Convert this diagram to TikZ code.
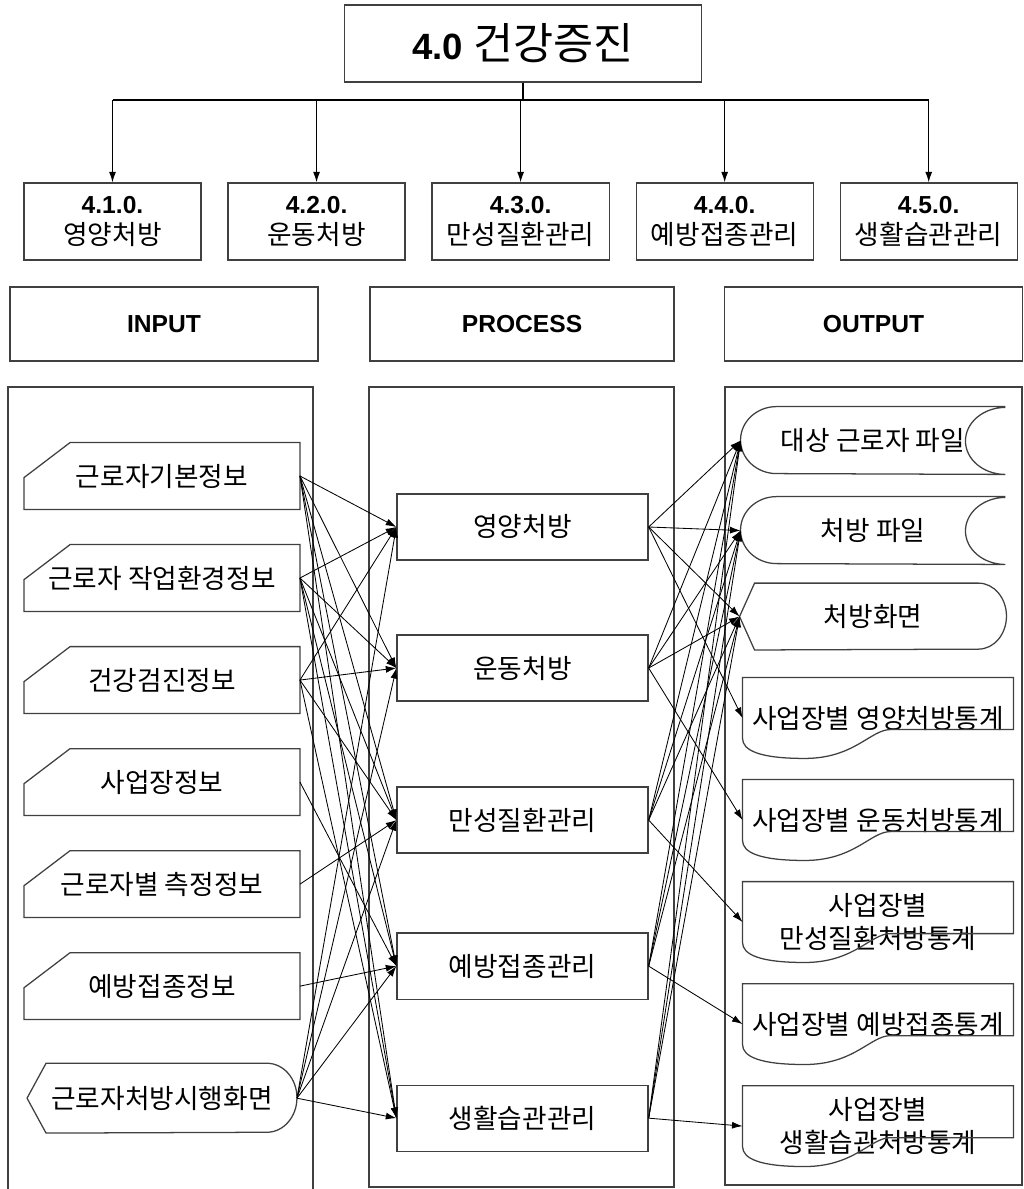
\documentclass[tikz,border=0pt]{standalone}
\usepackage{fontspec}
\setmainfont{Liberation Sans}
\newfontfamily\kr{Noto Sans CJK KR}
\usetikzlibrary{arrows.meta,calc}

\begin{document}
\begin{tikzpicture}[x=0.025cm,y=-0.025cm,>={Latex[length=7.5pt,width=5pt]},
  line width=0.6pt,node distance=1cm,
  rim/.style={draw=black!75,line width=0.9pt},
  plain box/.style={rim,inner sep=0pt},
  title node/.style={plain box,minimum width=8.925cm,minimum height=1.925cm},
  menu node/.style={plain box,minimum width=4.425cm,minimum height=1.925cm,
  align=center,font=\fontsize{17.5}{22}\selectfont},
  head node/.style={plain box,minimum height=1.85cm,font=\fontsize{17.5}{21}\selectfont\bfseries},
  in node/.style={inner sep=0pt,minimum width=6.875cm,minimum height=1.65cm,
  font=\kr\fontsize{19}{23}\selectfont},
  proc node/.style={plain box,minimum width=6.275cm,minimum height=1.65cm,
  font=\kr\fontsize{19}{23}\selectfont},
  file node/.style={inner sep=0pt,minimum width=6.6cm,minimum height=1.675cm,
  font=\kr\fontsize{19}{23}\selectfont},
  doc node/.style={inner sep=0pt,minimum width=6.75cm,minimum height=2cm,
  align=center,font=\kr\fontsize{19}{24}\selectfont}]

  \useasboundingbox (0,0) rectangle (1024,1189);

  \node[title node] (top) at (523,43.5)
    {{\fontsize{26}{30}\selectfont\bfseries 4.0\ }{\kr\fontsize{31}{34}\selectfont 건강증진}};

  \node[menu node] (m1) at (112.5,221.5) {{\bfseries 4.1.0.}\\{\kr\fontsize{19}{22}\selectfont 영양처방}};
  \node[menu node] (m2) [right of=m1, node distance=5.1cm] {{\bfseries 4.2.0.}\\{\kr\fontsize{19}{22}\selectfont 운동처방}};
  \node[menu node] (m3) [right of=m2, node distance=5.1cm] {{\bfseries 4.3.0.}\\{\kr\fontsize{19}{22}\selectfont 만성질환관리}};
  \node[menu node] (m4) [right of=m3, node distance=5.1cm] {{\bfseries 4.4.0.}\\{\kr\fontsize{19}{22}\selectfont 예방접종관리}};
  \node[menu node] (m5) [right of=m4, node distance=5.1cm] {{\bfseries 4.5.0.}\\{\kr\fontsize{19}{22}\selectfont 생활습관관리}};

  \coordinate (bus) at (523,100);
  \draw[line width=0.8pt] (top.south) -- (bus);
  \draw[line width=0.8pt] (bus -| m1.north) -- (bus -| m5.north);
  \foreach \m in {m1,m2,m3,m4,m5}
    \draw[->,line width=0.8pt] (bus -| \m.north) -- (\m.north);

  \node[head node,minimum width=7.7cm] (inp) at (164,324) {INPUT};
  \node[head node,minimum width=7.6cm] (proc) at (522,324) {PROCESS};
  \node[head node,minimum width=7.45cm] (outp) at (873.5,324) {OUTPUT};

  % panels
  \draw[rim] (8,1189) -- (8,387) -- (313,387) -- (313,1189);
  \draw[rim] (369,387) rectangle (674,1187);
  \draw[rim] (725,387) rectangle (1022,1185);

  % input
  \node[in node] (i1) at (162,476) {근로자기본정보};
  \node[in node] (i2) [below of=i1, node distance=2.55cm] {근로자 작업환경정보};
  \node[in node] (i3) [below of=i2, node distance=2.55cm] {건강검진정보};
  \node[in node] (i4) [below of=i3, node distance=2.55cm] {사업장정보};
  \node[in node] (i5) [below of=i4, node distance=2.55cm] {근로자별 측정정보};
  \node[in node] (i6) [below of=i5, node distance=2.55cm] {예방접종정보};
  \node[in node,minimum width=6.725cm,minimum height=1.725cm] (i7) [below of=i6, node distance=2.8cm] {근로자처방시행화면};

  \foreach \k in {1,...,6}
    \draw[rim] (i\k.south west) -- ($(i\k.north west)+(0,35)$) -- ($(i\k.north west)+(46,0)$)
      -- (i\k.north east) -- (i\k.south east) -- cycle;
  \draw[rim] (i7.west) -- ($(i7.north west)+(19,0)$) -- ($(i7.north east)+(-30,0)$)
    arc[start angle=90,end angle=-90,x radius=0.75cm,y radius=0.8625cm]
    -- ($(i7.south west)+(19,0)$) -- cycle;

  % process
  \node[proc node] (p1) at (522.5,527) {영양처방};
  \node[proc node] (p2) [below of=p1, node distance=3.525cm] {운동처방};
  \node[proc node] (p3) [below of=p2, node distance=3.8cm] {만성질환관리};
  \node[proc node] (p4) [below of=p3, node distance=3.65cm] {예방접종관리};
  \node[proc node] (p5) [below of=p4, node distance=3.8cm] {생활습관관리};

  % output
  \node[file node] (o1) at (873,440.5) {대상 근로자 파일};
  \node[file node] (o2) [below of=o1, node distance=2.25cm] {처방 파일};
  \node[file node,minimum width=6.65cm,minimum height=1.65cm] (o3) [below of=o2, node distance=2.15cm] {처방화면};
  \node[doc node] (o4) at (878,718) {사업장별 영양처방통계};
  \node[doc node] (o5) [below of=o4, node distance=2.55cm] {사업장별 운동처방통계};
  \node[doc node] (o6) [below of=o5, node distance=2.55cm] {사업장별\\만성질환처방통계};
  \node[doc node] (o7) [below of=o6, node distance=2.55cm] {사업장별 예방접종통계};
  \node[doc node] (o8) [below of=o7, node distance=2.55cm] {사업장별\\생활습관처방통계};

  \foreach \n in {o1,o2}
    \draw[rim] (\n.north east) -- ($(\n.north west)+(36,0)$)
      arc[start angle=90,end angle=270,x radius=0.9cm,y radius=0.8375cm]
      -- (\n.south east) arc[start angle=270,end angle=90,x radius=1cm,y radius=0.8375cm];
  \draw[rim] (o3.west) -- ($(o3.north west)+(15,0)$) -- ($(o3.north east)+(-28,0)$)
    arc[start angle=90,end angle=-90,x radius=0.7cm,y radius=0.825cm]
    -- ($(o3.south west)+(15,0)$) -- cycle;
  \foreach \k in {4,...,8}
    \draw[rim] (o\k.north west) -- (o\k.north east) -- ++(0,52) -- ++(-123,0)
      .. controls +(-20,0) and +(50,0) .. ($(o\k.south west)+(62,0)$)
      .. controls +(-45,0) and +(0,12) .. ($(o\k.south west)+(0,-20)$) -- cycle;

%input to process: 근로자기본정보
  \draw[->] (i1.east) -- (p1.west);
  \draw[->] (i1.east) -- (p2.west);
  \draw[->] (i1.east) -- (p3.west);
  \draw[->] (i1.east) -- (p4.west);
  \draw[->] (i1.east) -- (p5.west);

%근로자 작업환경정보
  \draw[->] (i2.east) -- (p1.west);
  \draw[->] (i2.east) -- (p2.west);
  \draw[->] (i2.east) -- (p3.west);
  \draw[->] (i2.east) -- (p4.west);
  \draw[->] (i2.east) -- (p5.west);

%건강검진정보
  \draw[->] (i3.east) -- (p1.west);
  \draw[->] (i3.east) -- (p2.west);
  \draw[->] (i3.east) -- (p3.west);
  \draw[->] (i3.east) -- (p5.west);

%사업장정보, 측정정보, 예방접종정보
  \draw[->] (i4.east) -- (p4.west);
  \draw[->] (i5.east) -- (p3.west);
  \draw[->] (i6.east) -- (p4.west);

%근로자처방시행화면
  \draw[->] (i7.east) -- (p1.west);
  \draw[->] (i7.east) -- (p2.west);
  \draw[->] (i7.east) -- (p3.west);
  \draw[->] (i7.east) -- (p4.west);
  \draw[->] (i7.east) -- (p5.west);

%process to output
  \foreach \p/\s in {p1/o4,p2/o5,p3/o6,p4/o7,p5/o8} {
    \draw[->] (\p.east) -- (o1.west);
    \draw[->] (\p.east) -- (o2.west);
    \draw[->] (\p.east) -- (o3.west);
    \draw[->] (\p.east) -- (\s.west);
  }

\end{tikzpicture}
\end{document}
